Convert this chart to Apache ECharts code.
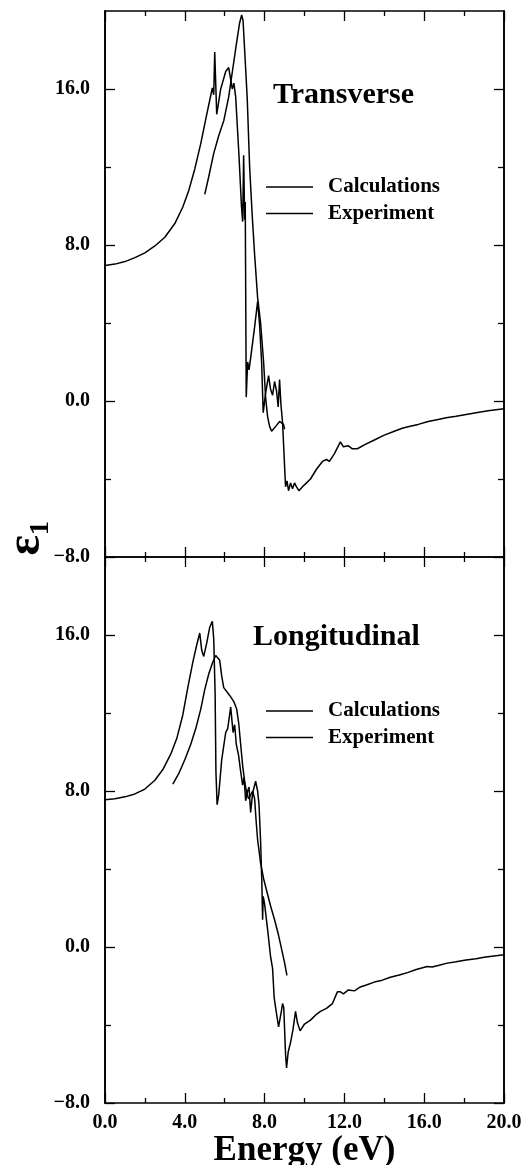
<!DOCTYPE html>
<html>
<head>
<meta charset="utf-8">
<script src="https://cdn.jsdelivr.net/npm/echarts@6/dist/echarts.min.js"></script>
<style>
html, body { margin: 0; padding: 0; background: #fff; }
#chart { width: 531px; height: 1165px; }
</style>
</head>
<body>
<div id="chart"></div>
<script>
// eps1 vs energy, [E (eV), eps1]
var transCalc = [
    [0, 6.95], [0.5, 7.02], [1.0, 7.15], [1.5, 7.35], [2.0, 7.6], [2.5, 7.95], [3.0, 8.4],
    [3.5, 9.1], [3.9, 9.95], [4.2, 10.8], [4.5, 11.9], [4.8, 13.2], [5.1, 14.7], [5.38, 16.05],
    [5.45, 15.7], [5.5, 17.9], [5.6, 14.7], [5.8, 16.0], [6.05, 16.9], [6.2, 17.1], [6.3, 17.0],
    [6.38, 16.0], [6.46, 16.3], [6.55, 15.6], [6.72, 12.5], [6.84, 10.0], [6.9, 9.2], [6.95, 12.6],
    [7.0, 9.3], [7.03, 10.2], [7.08, 0.2], [7.15, 2.0], [7.22, 1.6], [7.3, 2.2], [7.5, 3.8],
    [7.65, 5.1], [7.75, 3.9], [7.85, 2.0], [7.93, -0.6], [8.05, 0.4], [8.2, 1.3], [8.3, 0.6],
    [8.4, 0.3], [8.5, 1.0], [8.6, 0.5], [8.68, -0.3], [8.75, 1.1], [8.82, -0.2], [8.9, -1.1],
    [9.05, -4.4], [9.12, -4.1], [9.2, -4.6], [9.3, -4.2], [9.4, -4.5], [9.5, -4.2], [9.6, -4.4],
    [9.72, -4.6], [9.9, -4.4], [10.1, -4.2], [10.3, -4.0], [10.6, -3.5], [10.9, -3.1], [11.1, -3.0],
    [11.25, -3.1], [11.5, -2.7], [11.8, -2.1], [11.95, -2.35], [12.2, -2.3], [12.4, -2.45],
    [12.65, -2.45], [13.0, -2.25], [13.5, -2.0], [14.0, -1.75], [14.5, -1.55], [14.9, -1.4],
    [15.3, -1.3], [15.7, -1.2], [16.2, -1.05], [16.7, -0.95], [17.1, -0.86], [17.6, -0.78],
    [18.1, -0.69], [18.6, -0.6], [19.2, -0.5], [20.0, -0.4]
];
var transExp = [
    [5.0, 10.6], [5.2, 11.5], [5.45, 12.7], [5.7, 13.6], [5.96, 14.4], [6.2, 15.6], [6.4, 17.0],
    [6.6, 18.4], [6.75, 19.4], [6.85, 19.8], [6.92, 19.5], [7.0, 18.0], [7.13, 15.5], [7.25, 12.0],
    [7.38, 9.5], [7.5, 7.5], [7.65, 5.3], [7.8, 4.0], [7.95, 2.0], [8.05, 0.2], [8.15, -0.8],
    [8.25, -1.3], [8.35, -1.55], [8.45, -1.5], [8.6, -1.25], [8.75, -1.05], [8.85, -1.0],
    [8.95, -1.2], [9.0, -1.45]
];
var longCalc = [
    [0, 7.55], [0.5, 7.6], [1.0, 7.7], [1.5, 7.85], [2.0, 8.1], [2.5, 8.55], [2.9, 9.1], [3.3, 9.9],
    [3.6, 10.7], [3.9, 11.9], [4.15, 13.3], [4.4, 14.6], [4.6, 15.5], [4.75, 16.1], [4.85, 15.2],
    [4.95, 14.9], [5.1, 15.6], [5.25, 16.4], [5.38, 16.7], [5.45, 15.8], [5.52, 13.0], [5.56, 9.0],
    [5.62, 7.3], [5.7, 7.8], [5.85, 9.6], [6.05, 11.0], [6.15, 11.2], [6.3, 12.3], [6.38, 12.4],
    [6.42, 11.0], [6.5, 11.4], [6.58, 10.4], [6.7, 9.8], [6.8, 9.0], [6.9, 8.3], [6.97, 8.7],
    [7.05, 7.5], [7.15, 8.0], [7.22, 8.2], [7.3, 6.9], [7.4, 7.9], [7.55, 8.5], [7.65, 8.0],
    [7.72, 7.3], [7.8, 5.4], [7.86, 3.4], [7.9, 1.4], [7.93, 2.6], [8.0, 2.2], [8.15, 0.9],
    [8.3, -0.5], [8.4, -1.1], [8.48, -2.6], [8.55, -3.1], [8.62, -3.0], [8.7, -4.1], [8.76, -4.2],
    [8.84, -3.3], [8.9, -2.9], [8.96, -3.1], [9.05, -5.5], [9.1, -6.2], [9.18, -5.4], [9.3, -4.9],
    [9.42, -4.25], [9.55, -3.3], [9.65, -3.9], [9.78, -4.3], [9.85, -4.35], [10.0, -3.95],
    [10.3, -3.75], [10.6, -3.45], [10.8, -3.3], [11.1, -3.15], [11.4, -2.9], [11.65, -2.3],
    [11.8, -2.3], [11.95, -2.4], [12.2, -2.2], [12.5, -2.25], [12.8, -2.05], [13.1, -1.95],
    [13.5, -1.8], [13.9, -1.7], [14.3, -1.55], [14.75, -1.44], [15.2, -1.3], [15.6, -1.15],
    [16.15, -1.0], [16.4, -1.03], [16.7, -0.95], [17.1, -0.84], [17.6, -0.76], [18.1, -0.67],
    [18.6, -0.6], [19.0, -0.53], [19.5, -0.46], [20.0, -0.4]
];
var longExp = [
    [3.4, 8.35], [3.7, 8.9], [4.0, 9.6], [4.3, 10.4], [4.55, 11.2], [4.8, 12.2], [5.0, 13.2],
    [5.2, 14.0], [5.4, 14.6], [5.55, 14.95], [5.65, 15.0], [5.75, 14.7], [5.85, 13.9], [5.95, 13.3],
    [6.1, 13.1], [6.25, 12.9], [6.45, 12.6], [6.6, 12.2], [6.7, 11.5], [6.8, 10.4], [6.9, 9.3],
    [7.0, 8.5], [7.1, 7.9], [7.2, 7.6], [7.3, 7.7], [7.4, 8.0], [7.5, 7.6], [7.58, 6.4],
    [7.65, 5.5], [7.8, 4.3], [7.95, 3.5], [8.1, 2.9], [8.3, 2.1], [8.5, 1.4], [8.7, 0.6],
    [8.85, -0.1], [9.0, -0.8], [9.12, -1.45]
];

var seriesNames = ['Calculations', 'Experiment'];
var panelTitles = ['Transverse', 'Longitudinal'];
var yMajorTicks = [-8, 0, 8, 16];
var yMinorTicks = [-4, 4, 12];

var font = 'Liberation Serif';
var black = '#000';

var myChart = echarts.init(document.getElementById('chart'), null, {renderer: 'canvas'});

function fmt(v) {
    return v < 0 ? '\u2212' + Math.abs(v).toFixed(1) : v.toFixed(1);
}

// x axis: bottom/top of a panel
function makeX(grid, pos, showLabel) {
    return {
        type: 'value',
        gridIndex: grid,
        position: pos,
        min: 0,
        max: 20,
        interval: 4,
        axisLine: {show: true, onZero: false, lineStyle: {color: black, width: 1.6}},
        axisTick: {show: true, inside: true, length: 10, lineStyle: {color: black, width: 1.3}},
        minorTick: {show: true, splitNumber: 2, length: 5, lineStyle: {color: black, width: 1.3}},
        axisLabel: {
            show: showLabel, margin: 10, color: black, fontFamily: font,
            fontWeight: 'bold', fontSize: 20, formatter: fmt
        },
        splitLine: {show: false},
        minorSplitLine: {show: false}
    };
}

// y axis: one for long ticks + labels, one for short ticks
function makeY(grid, pos, ticks, len, showLabel) {
    return {
        type: 'value',
        gridIndex: grid,
        position: pos,
        min: -8,
        max: 20,
        axisLine: {show: true, onZero: false, lineStyle: {color: black, width: 1.6}},
        axisTick: {show: true, inside: true, length: len, customValues: ticks, lineStyle: {color: black, width: 1.3}},
        axisLabel: {
            show: showLabel, customValues: yMajorTicks, margin: 15, color: black,
            fontFamily: font, fontWeight: 'bold', fontSize: 20, formatter: fmt
        },
        splitLine: {show: false}
    };
}

var xAxes = [
    makeX(0, 'bottom', false),
    makeX(0, 'top', false),
    makeX(1, 'bottom', true),
    makeX(1, 'top', false),
    {type: 'value', gridIndex: 2, show: false}
];
xAxes[2].name = 'Energy (eV)';
xAxes[2].nameLocation = 'middle';
xAxes[2].nameGap = 17;
xAxes[2].nameTextStyle = {color: black, fontFamily: font, fontWeight: 'bold', fontSize: 35};

var yAxes = [];
[0, 1].forEach(function(g) {
    yAxes.push(makeY(g, 'left', yMajorTicks, 10, true));
    yAxes.push(makeY(g, 'left', yMinorTicks, 6, false));
    yAxes.push(makeY(g, 'right', yMajorTicks, 10, false));
    yAxes.push(makeY(g, 'right', yMinorTicks, 6, false));
});
// shared eps1 title across both panels
yAxes.push({
    type: 'value',
    gridIndex: 2,
    position: 'left',
    axisLine: {show: false},
    axisTick: {show: false},
    axisLabel: {show: false},
    splitLine: {show: false},
    name: '\u03b5\u2081',
    nameLocation: 'middle',
    nameRotate: 90,
    nameGap: 54,
    nameTextStyle: {
        color: black,
        fontFamily: font,
        fontWeight: 'bold',
        fontSize: 48,
        padding: [0, 0, 0, 38]
    }
});

function line(name, data, g) {
    return {
        name: name,
        type: 'line',
        xAxisIndex: g * 2,
        yAxisIndex: g * 4,
        data: data,
        showSymbol: false,
        symbol: 'none',
        smooth: false,
        lineStyle: {color: black, width: 1.5},
        itemStyle: {color: black},
        animation: false
    };
}

function legendAt(top) {
    return {
        data: seriesNames,
        orient: 'vertical',
        left: 266,
        top: top,
        padding: 0,
        itemGap: 4.5,
        itemWidth: 47,
        itemHeight: 1.6,
        icon: 'rect',
        selectedMode: false,
        textStyle: {
            color: black, fontFamily: font, fontWeight: 'bold', fontSize: 21,
            lineHeight: 22, padding: [0, 0, 0, 10]
        }
    };
}

var option = {
    backgroundColor: '#fff',
    animation: false,
    grid: [
        {left: 105, right: 27, top: 11, height: 546, outerBoundsMode: 'none'},
        {left: 105, right: 27, top: 557, height: 546, outerBoundsMode: 'none'},
        {left: 105, right: 27, top: 11, height: 1092, outerBoundsMode: 'none', show: false}
    ],
    title: [
        {text: panelTitles[0], left: 273, top: 80, padding: 0,
            textStyle: {color: black, fontFamily: font, fontWeight: 'bold', fontSize: 30}},
        {text: panelTitles[1], left: 253, top: 622, padding: 0,
            textStyle: {color: black, fontFamily: font, fontWeight: 'bold', fontSize: 30}}
    ],
    legend: [legendAt(176), legendAt(700)],
    xAxis: xAxes,
    yAxis: yAxes,
    series: [
        line(seriesNames[0], transCalc, 0),
        line(seriesNames[1], transExp, 0),
        line(seriesNames[0], longCalc, 1),
        line(seriesNames[1], longExp, 1)
    ]
};

myChart.setOption(option);
</script>
</body>
</html>
